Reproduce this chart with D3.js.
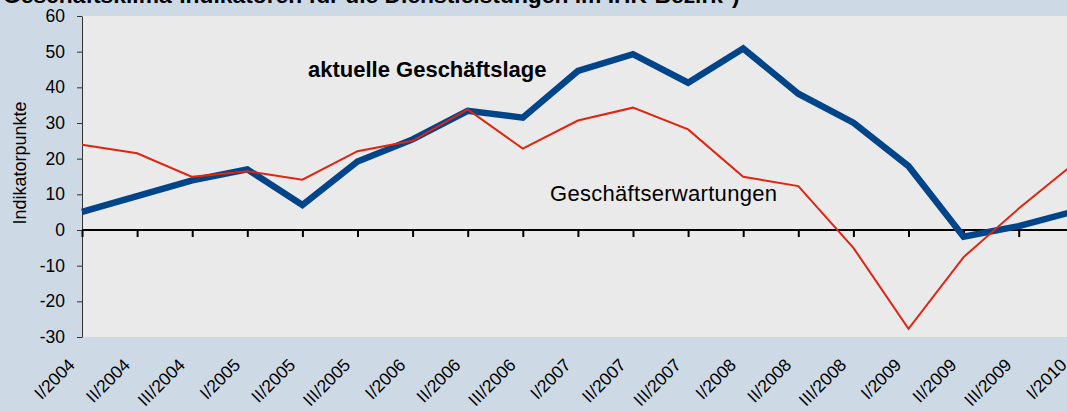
<!DOCTYPE html>
<html>
<head>
<meta charset="utf-8">
<script src="https://cdn.jsdelivr.net/npm/d3@7"></script>
<style>
  body { margin: 0; background: #cddae6; }
  text { font-family: "Liberation Sans", Arial, sans-serif; fill: #000; }
</style>
</head>
<body>
<div id="chart"></div>
<script>
//
// Quarterly indicator values
//
var quarters = ["I/2004", "II/2004", "III/2004", "I/2005", "II/2005", "III/2005",
  "I/2006", "II/2006", "III/2006", "I/2007", "II/2007", "III/2007",
  "I/2008", "II/2008", "III/2008", "I/2009", "II/2009", "III/2009", "I/2010"];

var lage = [5.1, 9.5, 13.9, 17.0, 7.0, 19.2, 25.4, 33.4, 31.5, 44.6, 49.3, 41.3,
  50.9, 38.2, 30.1, 17.9, -1.9, 1.1, 5.2];

var erwartungen = [23.9, 21.5, 14.9, 16.5, 14.1, 22.1, 25.0, 33.8, 22.8, 30.7, 34.3, 28.2,
  14.9, 12.3, -5.0, -27.7, -7.6, 6.0, 18.6];

var yTicks = [-30, -20, -10, 0, 10, 20, 30, 40, 50, 60];

var titleText = "Geschäftsklima-Indikatoren für die Dienstleistungen im IHK-Bezirk*)";
var yTitle = "Indikatorpunkte";
var lageLabel = "aktuelle Geschäftslage";
var erwLabel = "Geschäftserwartungen";

//
// Layout
//
var W = 1067, H = 412;
var plot = {left: 82, top: 16, bottom: 337, step: 55.1};

var svg = d3.select("#chart").append("svg")
  .attr("width", W)
  .attr("height", H);

var x = d3.scalePoint()
  .domain(quarters)
  .range([plot.left, plot.left + plot.step * (quarters.length - 1)]);

var y = d3.scaleLinear()
  .domain([-30, 60])
  .range([plot.bottom, plot.top]);

// grey plot area
svg.append("rect")
  .attr("x", plot.left)
  .attr("y", plot.top)
  .attr("width", W - plot.left)
  .attr("height", plot.bottom - plot.top)
  .attr("fill", "#eaeaea");

// title, cut at the top edge like in the original
var title = svg.append("text")
  .attr("x", 3)
  .attr("y", 3)
  .style("font-size", "20px")
  .style("font-weight", "bold")
  .text(titleText);
var tw = title.node().getComputedTextLength();
title.style("font-size", (20 * 737 / tw) + "px");

// y axis
var yAxis = svg.append("g")
  .attr("transform", "translate(" + plot.left + ",0)")
  .call(d3.axisLeft(y).tickValues(yTicks).tickSize(5).tickPadding(12).tickSizeOuter(0)
    .tickFormat(function(d) { return String(d); }));
yAxis.select(".domain").attr("stroke", "#333");
yAxis.selectAll(".tick line").attr("stroke", "#333");
yAxis.selectAll(".tick text")
  .style("font-size", "17.5px")
  .style("font-family", "'Liberation Sans', Arial, sans-serif")
  .attr("fill", "#000");

svg.append("text")
  .attr("transform", "translate(26,163)rotate(-90)")
  .attr("text-anchor", "middle")
  .style("font-size", "18px")
  .text(yTitle);

// zero line with category ticks
var xAxis = svg.append("g")
  .attr("transform", "translate(0," + y(0) + ")")
  .call(d3.axisBottom(x).tickSize(7).tickSizeOuter(0).tickFormat(""));
xAxis.select(".domain")
  .attr("d", "M" + plot.left + ",0H" + W)
  .attr("stroke", "#000")
  .attr("stroke-width", 2);
xAxis.selectAll(".tick line").attr("stroke", "#000").attr("stroke-width", 2);

// rotated category labels
svg.append("g").selectAll("text")
  .data(quarters)
  .join("text")
  .attr("transform", function(d) { return "translate(" + (x(d) - 6) + ",366)rotate(-45)"; })
  .attr("text-anchor", "end")
  .style("font-size", "17.5px")
  .text(function(d) { return d; });

// the two series
var line = d3.line()
  .x(function(d, i) { return x(quarters[i]); })
  .y(function(d) { return y(d); });

svg.append("path")
  .datum(lage)
  .attr("d", line)
  .attr("fill", "none")
  .attr("stroke", "#004489")
  .attr("stroke-width", 6.5);

svg.append("path")
  .datum(erwartungen)
  .attr("d", line)
  .attr("fill", "none")
  .attr("stroke", "#e1230f")
  .attr("stroke-width", 2);

// series labels
svg.append("text")
  .attr("x", 308)
  .attr("y", 77)
  .style("font-size", "22px")
  .style("font-weight", "bold")
  .text(lageLabel);

svg.append("text")
  .attr("x", 550)
  .attr("y", 201)
  .attr("textLength", 227)
  .attr("lengthAdjust", "spacing")
  .style("font-size", "22px")
  .text(erwLabel);
</script>
</body>
</html>
